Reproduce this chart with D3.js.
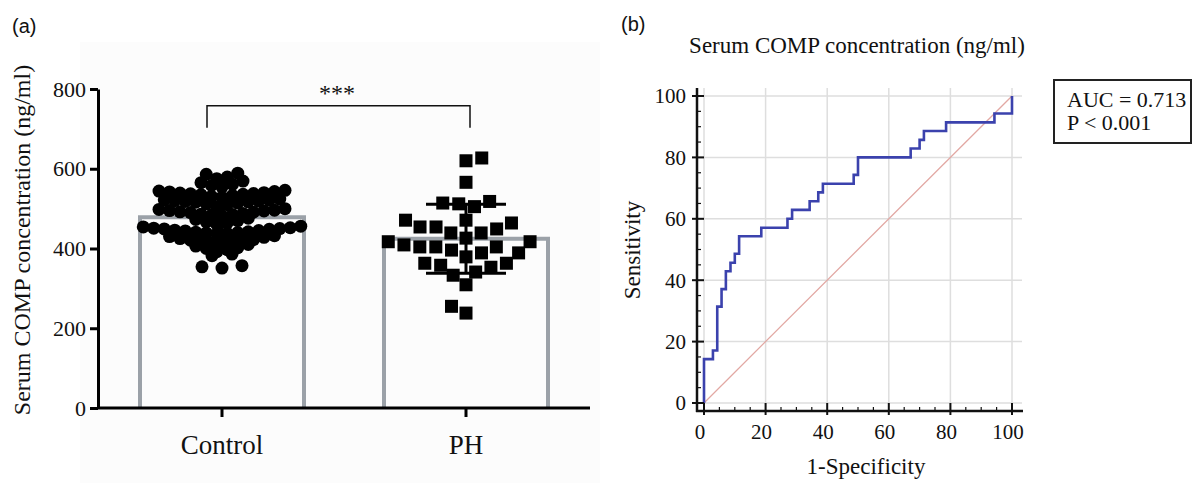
<!DOCTYPE html>
<html>
<head>
<meta charset="utf-8">
<script src="https://cdn.jsdelivr.net/npm/d3@7"></script>
<style>
  body { margin: 0; background: #fff; }
  svg text { font-family: "Liberation Serif", "Times New Roman", serif; fill: #111; }
</style>
</head>
<body>
<svg id="fig" width="1193" height="483"></svg>
<script>
// ---- panel (a) data: serum COMP (ng/ml) per subject
var groups = ["Control", "PH"];
var controlValues = [589, 586, 579, 575,
  569, 565, 561, 558, 554,
  546, 544, 543, 542, 540, 539, 538, 537, 536, 535, 533, 531, 528,
  524, 522, 521, 520, 519, 518, 517, 516, 514, 512, 510, 505,
  500, 498, 496, 495, 494, 492, 491, 490, 488, 486, 485, 484, 482,
  476, 473, 470, 467, 464, 461,
  456, 454, 452, 451, 450, 449, 448, 446, 445, 444, 442, 441, 440, 439, 438, 437,
  432, 430, 428, 425, 422, 421, 419, 418, 416, 414, 412,
  410, 406, 402, 400, 397, 392,
  386, 382,
  357, 354, 351];
var phValues = [627, 620, 566, 518, 514, 512, 505, 471, 471, 464,
  454, 454, 449, 439, 439, 426, 417, 417, 409, 404, 404, 404,
  396, 389, 389, 379, 363, 363, 358, 353, 341, 333, 309, 255, 238];
var yTicksA = [0, 200, 400, 600, 800];

// ---- panel (b) data: ROC step curve (1-specificity %, sensitivity %)
var rocFpr = [0, 0, 2.9, 2.9, 4.3, 4.3, 5.7, 5.7, 7.1, 7.1, 8.6, 8.6, 10, 10, 11.4, 11.4,
  18.6, 18.6, 27.1, 27.1, 28.6, 28.6, 34.3, 34.3, 37.1, 37.1, 38.6, 38.6, 48.6, 48.6,
  50, 50, 67.1, 67.1, 70, 70, 71.4, 71.4, 78.6, 78.6, 94.3, 94.3, 100, 100];
var rocTpr = [0, 14.3, 14.3, 17.1, 17.1, 31.4, 31.4, 37.1, 37.1, 42.9, 42.9, 45.7, 45.7, 48.6, 48.6, 54.3,
  54.3, 57.1, 57.1, 60, 60, 62.9, 62.9, 65.7, 65.7, 68.6, 68.6, 71.4, 71.4, 74.3,
  74.3, 80, 80, 82.9, 82.9, 85.7, 85.7, 88.6, 88.6, 91.4, 91.4, 94.3, 94.3, 100];
var rocTicks = [0, 20, 40, 60, 80, 100];
var aucText = ["AUC = 0.713", "P < 0.001"];

var svg = d3.select("#fig");
svg.append("rect").attr("width", 1193).attr("height", 483).attr("fill", "#fff");

// ================= panel (a) =================
svg.append("rect").attr("x", 80).attr("y", 42).attr("width", 520).attr("height", 441).attr("fill", "#fcfcfc");

var ya = d3.scaleLinear().domain([0, 800]).range([408, 89]);
var xa = d3.scalePoint().domain(groups).range([222, 466]);
var barW = 164;
var grey = "#9ba1a8";

var ga = svg.append("g");

var stats = [controlValues, phValues].map(function(vals, i){
  return {g: groups[i], mean: d3.mean(vals), sd: d3.deviation(vals)};
});
// bars (mean), open at the bottom
ga.selectAll(".bar").data(stats).enter().append("path")
  .attr("class", "bar")
  .attr("fill", "none").attr("stroke", grey).attr("stroke-width", 4)
  .attr("d", function(d){
    var x0 = xa(d.g) - barW/2, x1 = xa(d.g) + barW/2;
    return "M" + x0 + "," + ya(0) + "V" + ya(d.mean) + "H" + x1 + "V" + ya(0);
  });

// row layout like prism: bin values, lowest in a row sits in the middle
function rows(values, binW, anchor){
  var bins = d3.group(values, function(v){ return Math.round((v - anchor)/binW); });
  var out = [];
  bins.forEach(function(vals){
    var n = vals.length;
    var s = n <= 3 ? 20 : 10.5;
    var pos = d3.range(n).map(function(i){ return (i - (n-1)/2) * s; });
    pos.sort(function(a, b){ return Math.abs(a) - Math.abs(b) || a - b; });
    vals.slice().sort(d3.ascending).forEach(function(v, i){
      out.push({v: v, y: ya(v), x: pos[i]});
    });
  });
  return out;
}

// beeswarm layout for the squares
function swarm(values, D){
  var pts = values.map(function(v){ return {v: v, y: ya(v), x: 0}; })
                  .sort(function(a, b){ return a.v - b.v; });
  var placed = [];
  pts.forEach(function(p, k){
    var ints = [];
    placed.forEach(function(q){
      var dy = Math.abs(q.y - p.y);
      if(dy < D){
        var dx = Math.sqrt(D*D - dy*dy);
        ints.push([q.x - dx, q.x + dx]);
      }
    });
    var cands = [0];
    ints.forEach(function(iv){ cands.push(iv[0], iv[1]); });
    var s = (k % 2) ? 1 : -1;
    cands.sort(function(a, b){
      var d = Math.abs(a) - Math.abs(b);
      if(Math.abs(d) > 1e-6) return d;
      return (a*s) - (b*s);
    });
    for(var c = 0; c < cands.length; c++){
      var cx = cands[c];
      var ok = ints.every(function(iv){ return cx <= iv[0] + 1e-6 || cx >= iv[1] - 1e-6; });
      if(ok){ p.x = cx; break; }
    }
    placed.push(p);
  });
  return pts;
}

// error bars (mean +- SD)
var capW = 40;
stats.forEach(function(d){
  var cx = xa(d.g);
  var eb = ga.append("g").attr("stroke", "#000").attr("stroke-width", 3).attr("fill", "none");
  eb.append("line").attr("x1", cx).attr("x2", cx).attr("y1", ya(d.mean - d.sd)).attr("y2", ya(d.mean + d.sd));
  eb.append("line").attr("x1", cx - capW).attr("x2", cx + capW).attr("y1", ya(d.mean + d.sd)).attr("y2", ya(d.mean + d.sd));
  eb.append("line").attr("x1", cx - capW).attr("x2", cx + capW).attr("y1", ya(d.mean - d.sd)).attr("y2", ya(d.mean - d.sd));
});

var ctrlPts = rows(controlValues, 23, 446);
ga.selectAll(".dot").data(ctrlPts).enter().append("circle")
  .attr("class", "dot")
  .attr("cx", function(d){ return xa("Control") + d.x; })
  .attr("cy", function(d){ return d.y; })
  .attr("r", 6.5).attr("fill", "#000");

var phPts = swarm(phValues, 16);
var sq = 13;
ga.selectAll(".sq").data(phPts).enter().append("rect")
  .attr("class", "sq")
  .attr("x", function(d){ return xa("PH") + d.x - sq/2; })
  .attr("y", function(d){ return d.y - sq/2; })
  .attr("width", sq).attr("height", sq).attr("fill", "#000");

// axes
var yAxA = ga.append("g").attr("transform", "translate(98,0)")
  .call(d3.axisLeft(ya).tickValues(yTicksA).tickSize(8).tickPadding(4).tickSizeOuter(0));
yAxA.select(".domain").attr("stroke", "#000").attr("stroke-width", 3);
yAxA.selectAll(".tick line").attr("stroke", "#000").attr("stroke-width", 3);
yAxA.selectAll(".tick text").attr("font-size", 22).attr("font-family", "Liberation Serif").attr("fill", "#111");

var xAxA = ga.append("g").attr("transform", "translate(0,408)");
xAxA.append("line").attr("x1", 97).attr("x2", 590).attr("stroke", "#000").attr("stroke-width", 3);
xAxA.selectAll(".tk").data(groups).enter().append("line")
  .attr("x1", function(d){ return xa(d); }).attr("x2", function(d){ return xa(d); })
  .attr("y1", 0).attr("y2", 9).attr("stroke", "#000").attr("stroke-width", 3);
xAxA.selectAll(".lb").data(groups).enter().append("text")
  .attr("x", function(d){ return xa(d); }).attr("y", 46)
  .attr("text-anchor", "middle").attr("font-size", 27).text(function(d){ return d; });

// significance bracket
var brY = ya(758), brEnd = ya(703);
ga.append("path").attr("fill", "none").attr("stroke", "#111").attr("stroke-width", 1.5)
  .attr("d", "M" + (xa("Control") - 15) + "," + brEnd + "V" + brY + "H" + (xa("PH") + 4) + "V" + brEnd);
ga.append("text").attr("x", (xa("Control") + xa("PH"))/2 - 7).attr("y", 101)
  .attr("text-anchor", "middle").attr("font-size", 24).text("***");

ga.append("text").attr("transform", "translate(30,240) rotate(-90)")
  .attr("text-anchor", "middle").attr("font-size", 24).text("Serum COMP concentration (ng/ml)");
svg.append("text").attr("x", 12).attr("y", 33).attr("font-size", 20)
  .style("font-family", "Liberation Sans, Arial, sans-serif").text("(a)");

// ================= panel (b) =================
var xb = d3.scaleLinear().domain([0, 100]).range([704, 1012]);
var yb = d3.scaleLinear().domain([0, 100]).range([403, 96]);
var gb = svg.append("g");

// grid
gb.selectAll(".vg").data(rocTicks).enter().append("line")
  .attr("x1", function(d){ return xb(d); }).attr("x2", function(d){ return xb(d); })
  .attr("y1", 88).attr("y2", 411).attr("stroke", "#dedede").attr("stroke-width", 1.5);
gb.selectAll(".hg").data(rocTicks).enter().append("line")
  .attr("x1", 697).attr("x2", 1022)
  .attr("y1", function(d){ return yb(d); }).attr("y2", function(d){ return yb(d); })
  .attr("stroke", "#dedede").attr("stroke-width", 1.5);

// reference diagonal
gb.append("line").attr("x1", xb(0)).attr("y1", yb(0)).attr("x2", xb(100)).attr("y2", yb(100))
  .attr("stroke", "#e2a8a3").attr("stroke-width", 1.3);

// ROC curve
var rocPts = rocFpr.map(function(f, i){ return [f, rocTpr[i]]; });
gb.append("path").datum(rocPts)
  .attr("fill", "none").attr("stroke", "#3b42ad").attr("stroke-width", 2.6)
  .attr("d", d3.line().x(function(d){ return xb(d[0]); }).y(function(d){ return yb(d[1]); }));

// axes with major + minor ticks
var minor = d3.range(0, 101, 5).filter(function(v){ return v % 20 !== 0; });
gb.append("line").attr("x1", 697).attr("x2", 697).attr("y1", 88).attr("y2", 412).attr("stroke", "#111").attr("stroke-width", 2.5);
gb.append("line").attr("x1", 696).attr("x2", 1023).attr("y1", 411).attr("y2", 411).attr("stroke", "#111").attr("stroke-width", 2.5);
gb.selectAll(".ymaj").data(rocTicks).enter().append("line")
  .attr("x1", 692).attr("x2", 704)
  .attr("y1", function(d){ return yb(d); }).attr("y2", function(d){ return yb(d); })
  .attr("stroke", "#111").attr("stroke-width", 2);
gb.selectAll(".ymin").data(minor).enter().append("line")
  .attr("x1", 697).attr("x2", 701)
  .attr("y1", function(d){ return yb(d); }).attr("y2", function(d){ return yb(d); })
  .attr("stroke", "#111").attr("stroke-width", 1.2);
gb.selectAll(".xmaj").data(rocTicks).enter().append("line")
  .attr("x1", function(d){ return xb(d); }).attr("x2", function(d){ return xb(d); })
  .attr("y1", 403).attr("y2", 415)
  .attr("stroke", "#111").attr("stroke-width", 2);
gb.selectAll(".xmin").data(minor).enter().append("line")
  .attr("x1", function(d){ return xb(d); }).attr("x2", function(d){ return xb(d); })
  .attr("y1", 407).attr("y2", 411)
  .attr("stroke", "#111").attr("stroke-width", 1.2);

gb.selectAll(".ylab").data(rocTicks).enter().append("text")
  .attr("x", 686).attr("y", function(d){ return yb(d); }).attr("dy", "0.35em")
  .attr("text-anchor", "end").attr("font-size", 21).text(function(d){ return d; });
gb.selectAll(".xlab").data(rocTicks).enter().append("text")
  .attr("x", function(d){ return xb(d) - 4; }).attr("y", 439)
  .attr("text-anchor", "middle").attr("font-size", 21).text(function(d){ return d; });

gb.append("text").attr("transform", "translate(640,250) rotate(-90)")
  .attr("text-anchor", "middle").attr("font-size", 23).text("Sensitivity");
gb.append("text").attr("x", 866).attr("y", 474)
  .attr("text-anchor", "middle").attr("font-size", 23).text("1-Specificity");
gb.append("text").attr("x", 857).attr("y", 53)
  .attr("text-anchor", "middle").attr("font-size", 23).text("Serum COMP concentration (ng/ml)");
svg.append("text").attr("x", 621).attr("y", 31).attr("font-size", 20)
  .style("font-family", "Liberation Sans, Arial, sans-serif").text("(b)");

// AUC box
gb.append("rect").attr("x", 1054).attr("y", 80).attr("width", 137).attr("height", 63)
  .attr("fill", "#fff").attr("stroke", "#222").attr("stroke-width", 2);
gb.selectAll(".auc").data(aucText).enter().append("text")
  .attr("x", 1067).attr("y", function(d, i){ return 107 + i*23; })
  .attr("font-size", 22).text(function(d){ return d; });
</script>
</body>
</html>
